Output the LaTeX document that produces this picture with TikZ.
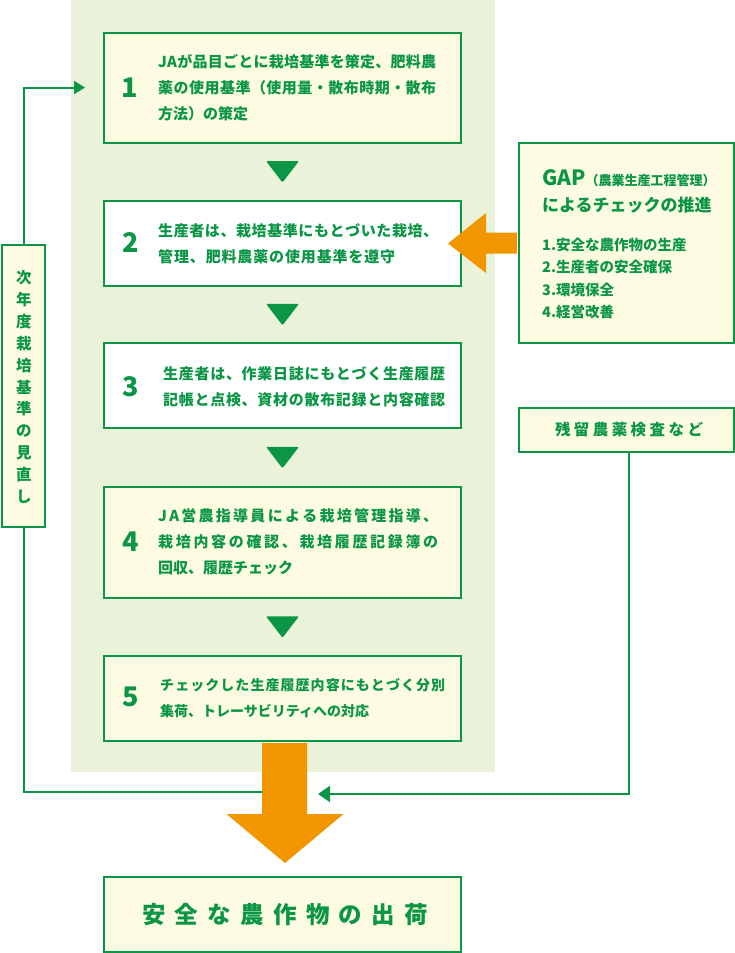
\documentclass[tikz,border=0pt]{standalone}
\usepackage{fontspec}
\setmainfont{Noto Sans CJK JP}
\usetikzlibrary{arrows.meta,calc}
\definecolor{greenc}{RGB}{10,150,68}
\definecolor{creamc}{RGB}{253,251,226}
\definecolor{panelc}{RGB}{234,242,217}
\definecolor{orangec}{RGB}{242,150,0}
\makeatletter
\newcommand\jl[2]{\hbox to #1pt{\jl@first#2\relax}}
\def\jl@first#1{#1\jl@rest}
\def\jl@rest#1{\ifx\relax#1\else\hskip0pt plus1fil\relax#1\expandafter\jl@rest\fi}
\makeatother
\begin{document}
\begin{tikzpicture}[x=1pt,y=-1pt,
  box/.style={draw=greenc, line width=2pt, fill=creamc, inner sep=0pt},
  wbox/.style={box, fill=white},
  stepbox/.style={minimum width=357pt},
  btxt/.style={anchor=west, align=left, text=greenc, inner sep=0pt, font=\fontsize{15}{26}\selectfont\bfseries},
  num/.style={text=greenc, inner sep=0pt, font=\fontsize{27}{27}\selectfont\bfseries},
  conn/.style={draw=greenc, line width=2pt},
  dtri/.pic={\fill[greenc, rounded corners=1.2pt] (-16.5,-10.75) -- (16.5,-10.75) -- (0,10.75) -- cycle;}
]
\useasboundingbox (0,0) rectangle (735,953);
% background panel
\fill[panelc] (71,0) rectangle (495,772);

% boxes
\node[box, stepbox, minimum height=110pt] (b1) at (282.5,87.5) {};
\node[wbox, stepbox, minimum height=85pt] (b2) at (282.5,243.5) {};
\node[wbox, stepbox, minimum height=85pt] (b3) at (282.5,385.5) {};
\node[box, stepbox, minimum height=111pt] (b4) at (282.5,542.5) {};
\node[box, stepbox, minimum height=85pt] (b5) at (282.5,698.5) {};
\node[box, stepbox, minimum height=75pt] (fin) at (282.5,914.5) {};
\node[box, minimum width=215pt, minimum height=200pt] (gap) at (626.5,243) {};
\node[box, minimum width=215pt, minimum height=44pt] (res) at (626.5,430) {};
\node[box, minimum width=43pt, minimum height=282pt] (vbox) at (23.5,386) {};

% down triangles
\path ($(b1.south)!0.5!(b2.north)$) pic {dtri};
\path ($(b2.south)!0.5!(b3.north)$) pic {dtri};
\path ($(b3.south)!0.5!(b4.north)$) pic {dtri};
\path ($(b4.south)!0.5!(b5.north)$) pic {dtri};

% connectors
\coordinate (shaftL) at ($(b5.south)+(-20.5,50)$);
\coordinate (shaftR) at ($(b5.south)+(24.5,52)$);
\draw[conn, -{Triangle[length=11pt,width=13pt]}, shorten >=18pt] (vbox.north) |- (b1.west);
\draw[conn] (vbox.south) |- (shaftL);
\draw[conn, -{Triangle[length=12pt,width=16pt]}, shorten >=11pt] ([xshift=2.5pt]res.south) |- (shaftR);

% orange arrows
\fill[orangec] ($(b5.south)+(-20.5,1)$) -- ($(b5.south)+(-20.5,72)$) -- ($(b5.south)+(-56,72)$)
  -- ($(b5.south)+(2.5,121)$) -- ($(b5.south)+(61,72)$) -- ($(b5.south)+(24.5,72)$)
  -- ($(b5.south)+(24.5,1)$) -- cycle;
\fill[orangec] ($(gap.west)+(-1,-10.5)$) -- ($(gap.west)+(-32,-10.5)$) -- ($(gap.west)+(-32,-30)$)
  -- ($(b2.east)+(-14,0)$) -- ($(gap.west)+(-32,30)$) -- ($(gap.west)+(-32,10.5)$)
  -- ($(gap.west)+(-1,10.5)$) -- cycle;

% numbers
\node[num] (n1) at (130,88) {1};
\node[num] (n2) at (131,243) {2};
\node[num] (n3) at (131,386.5) {3};
\node[num] (n4) at (131,542) {4};
\node[num] (n5) at (131,697) {5};

% box texts
\node[btxt] (t1) at (158,87.5) {\jl{278}{JAが品目ごとに栽培基準を策定、肥料農}\\\jl{278}{薬の使用基準（使用量・散布時期・散布}\\方法）の策定};
\node[btxt] (t2) at (158,243.5) {\jl{280}{生産者は、栽培基準にもとづいた栽培、}\\\jl{237}{管理、肥料農薬の使用基準を遵守}};
\node[btxt] (t3) at (163,386.5) {\jl{282}{生産者は、作業日誌にもとづく生産履歴}\\\jl{282}{記帳と点検、資材の散布記録と内容確認}};
\node[btxt] (t4) at (158,542) {\jl{280}{JA営農指導員による栽培管理指導、}\\\jl{280}{栽培内容の確認、栽培履歴記録簿の}\\回収、履歴チェック};
\node[btxt, font=\fontsize{14}{26}\selectfont\bfseries] (t5) at (160,698) {\jl{285}{チェックした生産履歴内容にもとづく分別}\\集荷、トレーサビリティへの対応};

% GAP box texts
\node[anchor=base west, text=greenc, inner sep=0pt] (g1) at (542,185.5)
  {\fontsize{21}{21}\selectfont\bfseries GAP\fontsize{13}{13}\selectfont（農業生産工程管理）};
\node[anchor=west, text=greenc, inner sep=0pt, font=\fontsize{17}{17}\selectfont\bfseries] (g2) at (542,205) {によるチェックの推進};
\node[anchor=west, align=left, text=greenc, inner sep=0pt, font=\fontsize{14.5}{22.3}\selectfont\bfseries] (g3) at (542,278.5)
  {1.安全な農作物の生産\\2.生産者の安全確保\\3.環境保全\\4.経営改善};

% residue text
\node[text=greenc, inner sep=0pt, font=\fontsize{15.5}{15.5}\selectfont\bfseries] (rt) at (629,430) {\jl{148}{残留農薬検査など}};

% vertical text
\node[text=greenc, inner sep=0pt, align=center, font=\fontsize{15.5}{21.9}\selectfont\bfseries] (vt) at (24,387)
  {次\\年\\度\\栽\\培\\基\\準\\の\\見\\直\\し};

% final text
\node[text=greenc, inner sep=0pt, font=\fontsize{23.5}{23.5}\selectfont\bfseries] (ft) at (285,914.5) {\jl{286}{安全な農作物の出荷}};
\end{tikzpicture}
\end{document}
